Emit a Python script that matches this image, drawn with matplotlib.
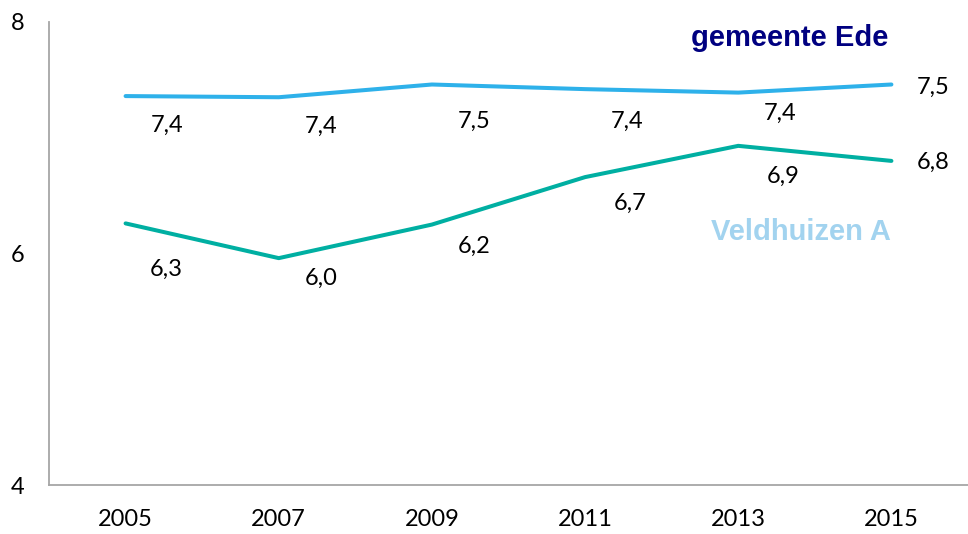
import matplotlib
matplotlib.use("Agg")
import matplotlib.pyplot as plt

years = ["2005", "2007", "2009", "2011", "2013", "2015"]
ede_values = [7.36, 7.35, 7.46, 7.42, 7.39, 7.46]
ede_labels = ["7,4", "7,4", "7,5", "7,4", "7,4", "7,5"]
veld_values = [6.26, 5.96, 6.25, 6.66, 6.93, 6.80]
veld_labels = ["6,3", "6,0", "6,2", "6,7", "6,9", "6,8"]
y_ticks = [4, 6, 8]

# label offsets in pixels (dx, dy downwards)
ede_off = [(41, 29), (42, 29), (42, 37), (42, 32), (42, 21), (42, 3)]
veld_off = [(41, 46), (42, 20), (42, 22), (45, 26), (45, 30), (42, 1)]

plt.rcParams['font.family'] = ['Lato', 'DejaVu Sans']

fig = plt.figure(figsize=(9.68, 5.34), dpi=100)
W, H = 968, 534
ax = fig.add_axes([49 / W, (H - 485) / H, (W - 49) / W, (485 - 22) / H])

x = list(range(len(years)))
ax.plot(x, ede_values, color="#2EB1EA", lw=2.9, solid_capstyle="round")
ax.plot(x, veld_values, color="#00AFA2", lw=2.9, solid_capstyle="round")

ax.set_xlim(-0.5, len(years) - 0.5)
ax.set_ylim(4, 8)
ax.set_xticks(x)
ax.set_xticklabels(years, fontsize=17)
ax.set_yticks(y_ticks)
ax.set_yticklabels([str(v) for v in y_ticks], fontsize=17)
ax.tick_params(length=0)
ax.tick_params(axis="x", pad=17)
ax.tick_params(axis="y", pad=18)

for s in ["top", "right"]:
    ax.spines[s].set_visible(False)
for s in ["left", "bottom"]:
    ax.spines[s].set_color("#A6A6A6")
    ax.spines[s].set_linewidth(1.3)

px = 72 / 100
for xi, v, t, (dx, dy) in zip(x, ede_values, ede_labels, ede_off):
    ax.annotate(t, (xi, v), xytext=(dx * px, -dy * px), textcoords="offset points",
                ha="center", va="center", fontsize=17, color="black")
for xi, v, t, (dx, dy) in zip(x, veld_values, veld_labels, veld_off):
    ax.annotate(t, (xi, v), xytext=(dx * px, -dy * px), textcoords="offset points",
                ha="center", va="center", fontsize=17, color="black")

fig.text(888 / W, 1 - 38 / H, "gemeente Ede", ha="right", va="center",
         fontsize=21, fontweight="bold", color="#000080", family="Liberation Sans")
fig.text(891 / W, 1 - 232 / H, "Veldhuizen A", ha="right", va="center",
         fontsize=21, fontweight="bold", color="#A2D3EF", family="Liberation Sans")

fig.savefig("out.png", dpi=100)
